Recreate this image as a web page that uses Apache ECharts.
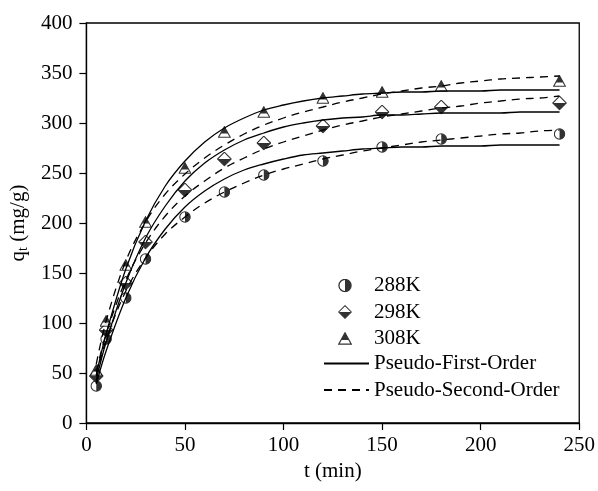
<!DOCTYPE html>
<html>
<head>
<meta charset="utf-8">
<script src="https://cdn.jsdelivr.net/npm/echarts@6/dist/echarts.min.js"></script>
<style>
  html, body { margin: 0; padding: 0; background: #fff; }
  #chart { width: 598px; height: 491px; }
</style>
</head>
<body>
<div id="chart"></div>
<script>
// measured points
const times = [5, 10, 20, 30, 50, 70, 90, 120, 150, 180, 240];
const q288 = [37, 84, 125, 164, 206, 231, 248, 262, 276, 284, 289];
const q298 = [47, 93, 140, 181, 233, 264, 280, 297, 311, 316, 320];
const q308 = [53, 102, 158, 201, 255, 291, 311, 325, 331, 337, 342];

// fitted curves
const fitTimes = [5, 10, 20, 30, 40, 50, 60, 70, 80, 90, 100, 110, 120, 130, 140, 150, 160, 170, 180, 190, 200, 210, 220, 230, 240];
const pfo288 = [39, 72, 125, 165, 194, 216, 232, 244, 253, 259, 264, 268, 270, 272, 274, 275, 276, 276, 277, 277, 277, 278, 278, 278, 278];
const pso288 = [47, 83, 132, 165, 189, 206, 220, 231, 240, 248, 254, 259, 264, 268, 272, 275, 278, 281, 283, 285, 287, 289, 290, 292, 293];
const pfo298 = [43, 81, 140, 185, 217, 242, 260, 273, 283, 290, 296, 300, 303, 305, 306, 308, 308, 309, 310, 310, 310, 310, 311, 311, 311];
const pso298 = [51, 89, 143, 180, 207, 227, 242, 255, 265, 274, 281, 287, 293, 298, 302, 306, 309, 312, 315, 317, 320, 322, 324, 325, 327];
const pfo308 = [48, 89, 154, 202, 237, 262, 281, 295, 305, 313, 318, 322, 325, 327, 329, 330, 331, 331, 332, 332, 332, 333, 333, 333, 333];
const pso308 = [59, 102, 162, 201, 229, 249, 265, 278, 289, 298, 305, 311, 316, 321, 325, 329, 332, 335, 337, 340, 342, 344, 345, 346, 347];

const tempNames = ["288K", "298K", "308K"];
const fitNames = ["Pseudo-First-Order", "Pseudo-Second-Order"];

const FONT = "Liberation Serif";

function svgIcon(w, h, body) {
  const svg = '<svg xmlns="http://www.w3.org/2000/svg" width="' + w + '" height="' + h +
    '" viewBox="0 0 ' + w + ' ' + h + '">' + body + '</svg>';
  return "image://data:image/svg+xml;charset=utf-8," + encodeURIComponent(svg);
}

// half-filled markers
const circleIcon = svgIcon(12, 12,
  '<circle cx="6" cy="6" r="5.2" fill="#fff" stroke="#000" stroke-width="1.1"/>' +
  '<path d="M6 0.8 A5.2 5.2 0 0 1 6 11.2 Z" fill="#000"/>');
const diamondIcon = svgIcon(15, 15,
  '<polygon points="7.5,0.7 14.3,7.5 7.5,14.3 0.7,7.5" fill="#fff" stroke="#000" stroke-width="1.1"/>' +
  '<polygon points="0.7,7.5 14.3,7.5 7.5,14.3" fill="#000"/>');
const triangleIcon = svgIcon(13, 12,
  '<polygon points="6.5,0.7 12.4,11.3 0.6,11.3" fill="#fff" stroke="#000" stroke-width="1.1"/>' +
  '<polygon points="6.5,0.7 10.3,7.5 2.7,7.5" fill="#000"/>');

const pair = (xs, ys) => xs.map((x, i) => [x, ys[i]]);

function scatter(name, ys, symbol, size) {
  return {
    name: name,
    type: "scatter",
    symbol: symbol,
    symbolSize: size,
    data: pair(times, ys),
    itemStyle: { color: "#000" },
    z: 2
  };
}

function curve(name, ys, dashed) {
  return {
    name: name,
    type: "line",
    data: pair(fitTimes, ys),
    smooth: 0.35,
    symbol: "none",
    showSymbol: false,
    itemStyle: { color: "#000" },
    lineStyle: { color: "#000", width: 1.3, type: dashed ? [8, 6] : "solid" },
    z: 3
  };
}

const chart = echarts.init(document.getElementById("chart"));

const option = {
  animation: false,
  backgroundColor: "#fff",
  grid: {
    left: 86, right: 16, top: 23, bottom: 68,
    show: true, borderColor: "#000", borderWidth: 1.3, backgroundColor: "transparent"
  },
  xAxis: {
    type: "value",
    min: 0, max: 250, interval: 50,
    name: "t (min)",
    nameLocation: "middle",
    nameGap: 34,
    nameTextStyle: { fontFamily: FONT, fontSize: 21, color: "#000" },
    axisLine: { lineStyle: { color: "#000", width: 1.3 } },
    axisTick: { inside: false, length: 7, lineStyle: { color: "#000", width: 1.2 } },
    axisLabel: { fontFamily: FONT, fontSize: 21, color: "#000", margin: 12 },
    splitLine: { show: false }
  },
  yAxis: {
    type: "value",
    min: 0, max: 400, interval: 50,
    name: "{a|q}{s|t}{a| (mg/g)}",
    nameLocation: "middle",
    nameGap: 54,
    nameRotate: 90,
    nameTextStyle: {
      color: "#000",
      rich: {
        a: { fontFamily: FONT, fontSize: 21, color: "#000" },
        s: { fontFamily: FONT, fontSize: 14, color: "#000", verticalAlign: "bottom", padding: [9, 0, 0, 0] }
      }
    },
    axisLine: { lineStyle: { color: "#000", width: 1.3 } },
    axisTick: { inside: false, length: 7, lineStyle: { color: "#000", width: 1.2 } },
    axisLabel: { fontFamily: FONT, fontSize: 21, color: "#000", margin: 14 },
    splitLine: { show: false }
  },
  legend: [
    {
      data: tempNames,
      orient: "vertical",
      left: 333,
      top: 270,
      itemWidth: 14,
      itemHeight: 14,
      itemGap: 5.5,
      textStyle: { fontFamily: FONT, fontSize: 21, color: "#000", lineHeight: 14, padding: [0, 0, 0, 17] }
    },
    {
      data: fitNames,
      orient: "vertical",
      left: 318,
      top: 348,
      itemWidth: 45,
      itemHeight: 14,
      itemGap: 5.5,
      itemStyle: { color: "rgba(0,0,0,0)", borderWidth: 0 },
      textStyle: { fontFamily: FONT, fontSize: 21, color: "#000", lineHeight: 14 }
    }
  ],
  series: [
    curve(fitNames[0], pfo288, false),
    curve(fitNames[0], pfo298, false),
    curve(fitNames[0], pfo308, false),
    curve(fitNames[1], pso288, true),
    curve(fitNames[1], pso298, true),
    curve(fitNames[1], pso308, true),
    scatter(tempNames[0], q288, circleIcon, [12, 12]),
    scatter(tempNames[1], q298, diamondIcon, [15, 15]),
    scatter(tempNames[2], q308, triangleIcon, [13, 12])
  ]
};

chart.setOption(option);
</script>
</body>
</html>
